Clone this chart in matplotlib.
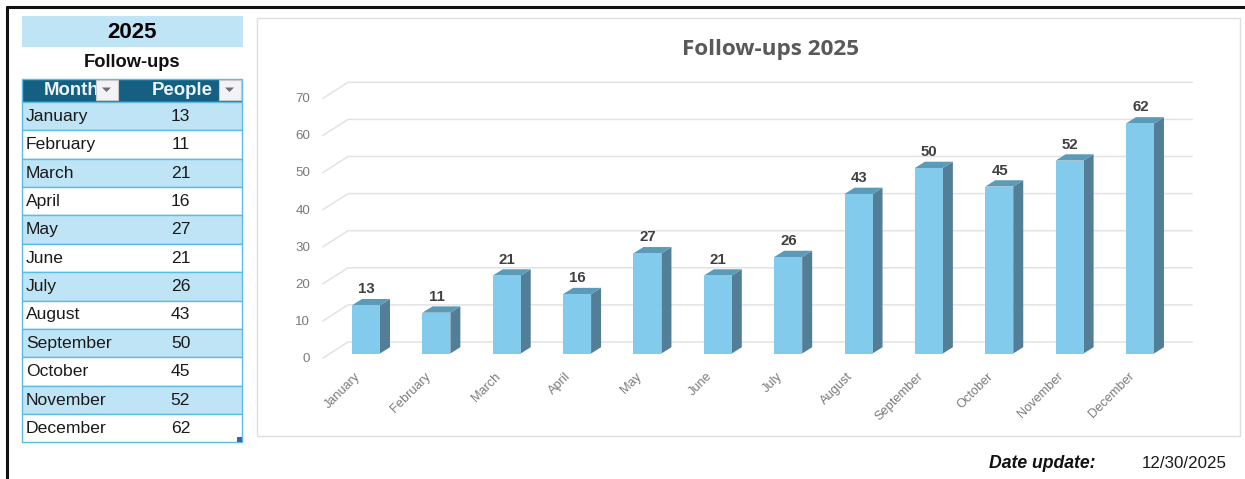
import matplotlib
matplotlib.use("Agg")
import matplotlib.pyplot as plt
from matplotlib.patches import Rectangle, Polygon

months = ["January", "February", "March", "April", "May", "June", "July",
          "August", "September", "October", "November", "December"]
people = [13, 11, 21, 16, 27, 21, 26, 43, 50, 45, 52, 62]
y_ticks = [0, 10, 20, 30, 40, 50, 60, 70]
year_label = "2025"
table_title = "Follow-ups"
chart_title = "Follow-ups 2025"
headers = ["Month", "People"]
date_label = "Date update:"
date_value = "12/30/2025"

W, H = 1245, 479
plt.rcParams['font.family'] = ['Liberation Sans', 'DejaVu Sans']
fig = plt.figure(figsize=(W / 100, H / 100), dpi=100, facecolor="white")

# page layer in pixel coordinates
pg = fig.add_axes([0, 0, 1, 1])
pg.set_xlim(0, W); pg.set_ylim(H, 0); pg.axis("off")
BLUE = "#BFE4F5"; EDGE = "#5BBCE4"; HEAD = "#156082"

pg.plot([7, 7], [6, H], color="#111111", lw=2.2, solid_capstyle="butt")
pg.plot([6, W], [6.5, 6.5], color="#111111", lw=2.2, solid_capstyle="butt")

pg.add_patch(Rectangle((21.5, 15.5), 221.5, 31, fc=BLUE, ec="none"))
pg.text(132.5, 32, year_label, ha="center", va="center", fontsize=16, fontweight="bold", color="black")
pg.text(132, 62, table_title, ha="center", va="center", fontsize=13.2, fontweight="bold", color="#111111")

# table
tl, tr, tt, hb = 22, 242, 78.5, 102
rh = (442.3 - hb) / len(months)
pg.add_patch(Rectangle((tl, tt), tr - tl, hb - tt, fc=HEAD, ec=EDGE, lw=1))
for i, (m, p) in enumerate(zip(months, people)):
    y0 = hb + i * rh
    pg.add_patch(Rectangle((tl, y0), tr - tl, rh, fc=BLUE if i % 2 == 0 else "white", ec=EDGE, lw=1))
    pg.text(26, y0 + rh / 2 + 0.3, m, ha="left", va="center", fontsize=12.6, color="#1a1a1a")
    pg.text(180.5, y0 + rh / 2 + 0.3, str(p), ha="center", va="center", fontsize=12.6, color="#1a1a1a")
pg.text(44, 90, headers[0], ha="left", va="center", fontsize=13.4, fontweight="bold", color="#EAF4FA")
pg.text(182, 90, headers[1], ha="center", va="center", fontsize=13.4, fontweight="bold", color="#EAF4FA")
for bx in (96, 219):
    pg.add_patch(Rectangle((bx, 80), 21.5, 19.5, fc="#F2F2F7", ec="#C8C8C8", lw=0.8, zorder=4))
    pg.add_patch(Polygon([(bx + 6, 87.5), (bx + 15, 87.5), (bx + 10.5, 92)], fc="#6E6E6E", ec="none", zorder=5))
pg.add_patch(Rectangle((236.5, 436.5), 5, 5, fc="#3F5FBF", ec="none", zorder=5))

# chart frame
pg.add_patch(Rectangle((257, 17.5), 982.5, 418, fc="white", ec="#DFDFDF", lw=1.0))
pg.text(770.5, 49, chart_title, ha="center", va="center", fontsize=16.2, fontweight="bold",
        family=["Open Sans", "DejaVu Sans"], color="#595959")

pg.text(1042.5, 463, date_label, ha="center", va="center", fontsize=12.7, fontweight="bold",
        style="italic", color="#111111")
pg.text(1184, 463, date_value, ha="center", va="center", fontsize=12.2, color="#1a1a1a")

# chart axes: x px = 366 + 70.36*i, y px = 353.5 - 3.71*v
px_x, py_y, sy = 70.36, 3.71, 353.5
ax_l, ax_r, ax_t, ax_b = 280, 1210, 60, 430
ax = fig.add_axes([ax_l / W, 1 - ax_b / H, (ax_r - ax_l) / W, (ax_b - ax_t) / H])
ax.set_xlim((ax_l - 366) / px_x, (ax_r - 366) / px_x)
ax.set_ylim((sy - ax_b) / py_y, (sy - ax_t) / py_y)
ax.axis("off"); ax.patch.set_alpha(0)

depth_x = 10 / px_x
depth_y = 6.3 / py_y
half = 14 / px_x
grid_y0 = 11.5 / py_y     # lift of the back wall over the front baseline
wall_l = -18 / px_x
wall_r = (1192 - 366) / px_x
front_l = -43 / px_x
front_drop = -4.5 / py_y
GRID = "#E3E3E3"

for v in y_ticks:
    ax.plot([front_l, wall_l, wall_r], [v + front_drop, v + grid_y0, v + grid_y0],
            color=GRID, lw=1.1, zorder=1, solid_joinstyle="miter")
    ax.text(-56 / px_x, v + front_drop - 1.0 / py_y, str(v), ha="right", va="center",
            fontsize=9.6, color="#7a7a7a")

FRONT = "#82CBEC"; TOP = "#5B9BB8"; SIDE = "#527F97"
for i, v in enumerate(people):
    l, r = i - half, i + half
    ax.add_patch(Polygon([(r, 0), (r + depth_x, depth_y), (r + depth_x, v + depth_y), (r, v)],
                         fc=SIDE, ec="none", zorder=3))
    ax.add_patch(Polygon([(l, v), (r, v), (r + depth_x, v + depth_y), (l + depth_x, v + depth_y)],
                         fc=TOP, ec="none", zorder=3))
    ax.add_patch(Rectangle((l, 0), r - l, v, fc=FRONT, ec="none", zorder=4))
    ax.text(i + 0.5 / px_x, v + 16 / py_y, str(v), ha="center", va="center", fontsize=10.8,
            fontweight="bold", color="#404040", zorder=5)
    ax.text(i - 12 / px_x, -17 / py_y, months[i], rotation=45, rotation_mode="anchor", ha="right", va="top",
            fontsize=9.2, color="#7a7a7a")

fig.savefig("out.png", dpi=100, facecolor="white")
